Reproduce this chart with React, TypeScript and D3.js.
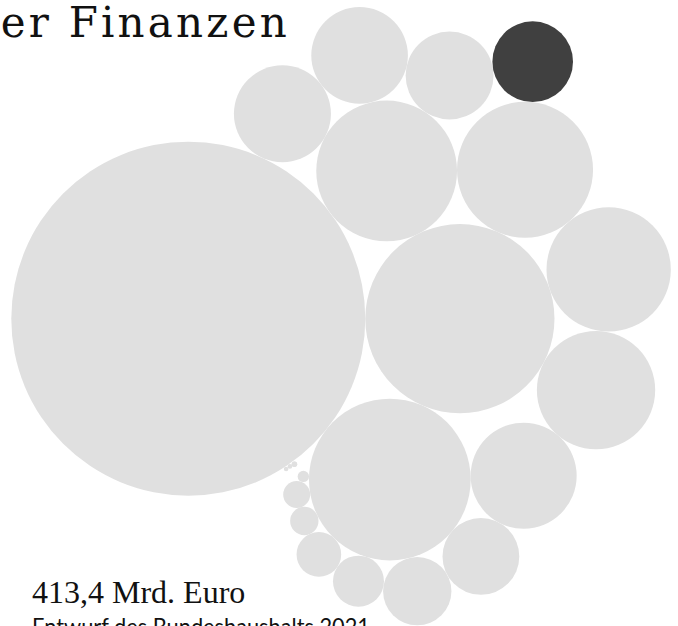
import React, { useMemo } from "react";
import * as d3 from "d3";

// Einzelpläne, Entwurf Bundeshaushalt 2021 (Mrd. Euro), sorted by value
const categories = [
  "Arbeit und Soziales",
  "Verteidigung",
  "Bundesschuld",
  "Verkehr und digitale Infrastruktur",
  "Gesundheit",
  "Bildung und Forschung",
  "Allgemeine Finanzverwaltung",
  "Inneres, Bau und Heimat",
  "Familie, Senioren, Frauen und Jugend",
  "Wirtschaftliche Zusammenarbeit",
  "Wirtschaft und Energie",
  "Finanzen",
  "Ernährung und Landwirtschaft",
  "Auswärtiges Amt",
  "Bundeskanzleramt",
  "Umwelt, Naturschutz und nukleare Sicherheit",
  "Deutscher Bundestag",
  "Justiz und Verbraucherschutz",
  "Bundesrechnungshof",
  "Bundespräsident",
  "Bundesverfassungsgericht",
  "Bundesrat",
  "Datenschutz und Informationsfreiheit",
];
const values = [
  163.9, 46.8, 34.2, 25.9, 24.2, 20.2, 18.3, 14.7, 12.3, 12.2, 10.1, 8.5, 7.7,
  6.1, 3.4, 2.6, 1.05, 0.95, 0.17, 0.038, 0.038, 0.028, 0.028,
];
// packing order: each circle (from the third on) touches these two earlier circles
const packPairs: [number, number][] = [
  [0, 1], [1, 0], [1, 3], [1, 4], [1, 5], [2, 6], [3, 0], [3, 8], [3, 9],
  [4, 10], [2, 7], [2, 12], [2, 13], [2, 14], [2, 15], [2, 16], [2, 17],
  [18, 0], [0, 18], [0, 20], [0, 21],
];
const highlighted = ["Finanzen"];
const titleText = "Bundesministerium der Finanzen";
const totalText = "413,4 Mrd. Euro";
const subtitleText = "Entwurf des Bundeshaushalts 2021";

const W = 678;
const H = 626;
const MAX_R = 177;
const ANCHOR = { x: 188.3, y: 318.7 };

type C = { name: string; value: number; r: number; x: number; y: number };

function placeTangent(p: C, q: C, c: C) {
  const dx = q.x - p.x;
  const dy = q.y - p.y;
  const d = Math.hypot(dx, dy);
  const dp = p.r + c.r;
  const dq = q.r + c.r;
  const a = (dp * dp - dq * dq + d * d) / (2 * d);
  const h = Math.sqrt(Math.max(0, dp * dp - a * a));
  const ux = dx / d;
  const uy = dy / d;
  c.x = p.x + a * ux - h * uy;
  c.y = p.y + a * uy + h * ux;
}

export default function App() {
  const circles = useMemo(() => {
    const r = d3.scaleSqrt().domain([0, d3.max(values)!]).range([0, MAX_R]);
    const nodes: C[] = categories.map((c, i) => ({
      name: c,
      value: values[i],
      r: r(values[i]),
      x: 0,
      y: 0,
    }));
    nodes[0].x = ANCHOR.x;
    nodes[0].y = ANCHOR.y;
    if (nodes.length > 1) {
      nodes[1].x = nodes[0].x + nodes[0].r + nodes[1].r;
      nodes[1].y = nodes[0].y;
    }
    packPairs.forEach(([p, q], k) => {
      const i = k + 2;
      if (i < nodes.length) placeTangent(nodes[p], nodes[q], nodes[i]);
    });
    return nodes;
  }, []);

  return (
    <svg
      width={W}
      height={H}
      style={{ position: "absolute", left: 0, top: 0, display: "block" }}
    >
      <rect width={W} height={H} fill="#ffffff" />
      {circles.map((c) => (
        <circle
          key={c.name}
          cx={c.x}
          cy={c.y}
          r={c.r}
          fill={highlighted.includes(c.name) ? "#404040" : "#e0e0e0"}
        />
      ))}
      <text
        x={290}
        y={37}
        textAnchor="end"
        fontFamily="'DejaVu Serif', serif"
        fontSize={42}
        letterSpacing={3.2}
        fill="#111"
      >
        {titleText}
      </text>
      <text
        x={32}
        y={603}
        fontFamily="'Liberation Serif', serif"
        fontSize={32}
        fill="#111"
      >
        {totalText}
      </text>
      <text
        x={32}
        y={635}
        fontFamily="Lato, 'Liberation Sans', sans-serif"
        fontSize={23}
        textLength={338}
        lengthAdjust="spacingAndGlyphs"
        fill="#111"
      >
        {subtitleText}
      </text>
    </svg>
  );
}
